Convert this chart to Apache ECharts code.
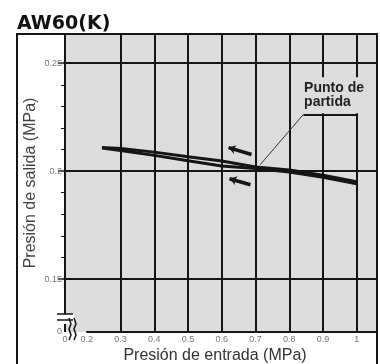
<!DOCTYPE html>
<html><head><meta charset="utf-8">
<script src="https://cdn.jsdelivr.net/npm/echarts@6/dist/echarts.min.js"></script>
<style>html,body{margin:0;padding:0;background:#fff}#c{width:380px;height:364px}</style>
</head><body><div id="c"></div>
<script>
const titleText = 'AW60(K)';
const xName = 'Presión de entrada (MPa)';
const yName = 'Presión de salida (MPa)';
const annotationText = 'Punto de\npartida';
const xTickLabels = [0, 0.2, 0.3, 0.4, 0.5, 0.6, 0.7, 0.8, 0.9, 1];
const yTickLabels = [0, 0.15, 0.2, 0.25];
const yMinorTicks = [0.16, 0.17, 0.18, 0.19, 0.21, 0.22, 0.23, 0.24];
const inletPressure = [0.245, 0.3, 0.4, 0.5, 0.6, 0.7, 0.8, 0.9, 1.0];
const outletUpper = [0.2110, 0.2105, 0.2088, 0.2067, 0.2047, 0.2019, 0.2005, 0.1981, 0.1951];
const outletLower = [0.2107, 0.2096, 0.2073, 0.2048, 0.2024, 0.2012, 0.1996, 0.1972, 0.1942];
const arrowUpper = [[0.62, 0.2109], [0.688, 0.2077]];
const arrowLower = [[0.623, 0.1965], [0.685, 0.1937]];
const leader = [[0.714, 0.2030], [0.842, 0.2263]];
const bracket = [[0.842, 0.2263], [0.998, 0.2263]];

const BG = '#dcdcdc', INK = '#151515';
const chart = echarts.init(document.getElementById('c'), null, {renderer: 'canvas'});
const pairs = (xs, ys) => xs.map((x, i) => [x, ys[i]]);
const inList = (list, v) => list.some(t => Math.abs(t - v) < 1e-6);
const G = {left: 65, right: 3, top: 34, bottom: 32};
const yScale = {type: 'value', min: 0, max: 0.2635, interval: 0.05,
  breaks: [{start: 0, end: 0.132, gap: '4.7%'}], breakArea: {show: false}};

chart.setOption({
  animation: false,
  title: {text: titleText, left: 12, top: 10,
    textStyle: {fontFamily: 'DejaVu Sans', fontWeight: 'bold', fontSize: 19, color: '#111'}},
  grid: Object.assign({show: true, backgroundColor: BG, borderWidth: 0, outerBoundsMode: 'none', containLabel: false}, G),
  xAxis: {
    type: 'value', min: 0, max: 1.06, interval: 0.1,
    breaks: [{start: 0, end: 0.2, gap: '7%'}],
    breakArea: {show: false},
    name: xName, nameLocation: 'middle', nameGap: 16, nameMoveOverlap: false,
    nameTextStyle: {fontFamily: 'Liberation Sans', fontSize: 16, color: '#333', padding: [0, 12, 0, 0]},
    axisLine: {show: true, lineStyle: {color: INK, width: 2}},
    axisTick: {show: false},
    axisLabel: {fontFamily: 'Liberation Sans', fontSize: 9, color: '#777', margin: 3,
      customValues: xTickLabels,
      formatter: v => (Math.abs(v - 1) < 1e-9 ? '1' : (Math.abs(v) < 1e-9 ? '0' : v.toFixed(1)))},
    splitLine: {show: true, lineStyle: {color: INK, width: 2}}
  },
  yAxis: [
    Object.assign({}, yScale, {
      name: yName, nameLocation: 'middle', nameGap: 26, nameMoveOverlap: false,
      nameTextStyle: {fontFamily: 'Liberation Sans', fontSize: 16, color: '#444'},
      axisLine: {show: true, lineStyle: {color: INK, width: 2}},
      axisTick: {show: true, length: 7, customValues: yTickLabels.slice(1), lineStyle: {color: INK, width: 1.5}},
      axisLabel: {fontFamily: 'Liberation Sans', fontSize: 9, color: '#777', margin: 3,
        customValues: yTickLabels, hideOverlap: false,
        formatter: v => String(+(+v).toFixed(2))},
      splitLine: {show: true, lineStyle: {color: INK, width: 2}}
    }),
    Object.assign({}, yScale, {
      position: 'left',
      axisLine: {show: false}, axisLabel: {show: false}, splitLine: {show: false},
      axisTick: {show: true, length: 4, customValues: yMinorTicks, lineStyle: {color: INK, width: 1}}
    })
  ],
  series: [
    {type: 'line', data: pairs(inletPressure, outletUpper), symbol: 'none',
      lineStyle: {color: INK, width: 3}, z: 5,
      markLine: {silent: true, symbol: ['none', 'none'], label: {show: false},
        data: [
          [{coord: leader[0], lineStyle: {color: '#333', width: 1, type: 'solid'}}, {coord: leader[1]}],
          [{coord: bracket[0], lineStyle: {color: INK, width: 2, type: 'solid'}}, {coord: bracket[1]}]
        ]}},
    {type: 'line', data: pairs(inletPressure, outletLower), symbol: 'none',
      lineStyle: {color: INK, width: 3}, z: 5,
      markLine: {silent: true, symbol: ['arrow', 'none'], symbolSize: [7, 7], label: {show: false},
        lineStyle: {color: INK, width: 3.5, type: 'solid'},
        data: [
          [{coord: arrowUpper[0]}, {coord: arrowUpper[1]}],
          [{coord: arrowLower[0]}, {coord: arrowLower[1]}]
        ]}}
  ]
});

function px(p) { return chart.convertToPixel({gridIndex: 0}, p); }
const boxTL = px([0.835, 0.2435]);
const boxBR = px([1.04, 0.2263]);
const o = [G.left, 364 - G.bottom];
const fr = {left: 17, top: G.top, right: 380 - G.right};
chart.setOption({
  graphic: [
    {type: 'rect', z: 50, shape: {x: boxTL[0], y: boxTL[1], width: boxBR[0] - boxTL[0], height: boxBR[1] - boxTL[1] - 1},
      style: {fill: BG}},
    {type: 'text', z: 51, x: boxTL[0] + 3, y: boxTL[1] + 4,
      style: {text: annotationText, fontFamily: 'Liberation Sans', fontWeight: 'bold', fontSize: 14, lineHeight: 14, fill: '#222'}},
    {type: 'polyline', z: 60, shape: {points: [[fr.left, 364], [fr.left, fr.top], [fr.right, fr.top], [fr.right, 364]]},
      style: {stroke: INK, lineWidth: 2, fill: null}},
    {type: 'rect', z: 55, shape: {x: o[0] - 3, y: o[1] - 18, width: 12, height: 10}, style: {fill: '#fff'}},
    {type: 'polyline', z: 56, shape: {points: [[o[0] - 8, o[1] - 18], [o[0] + 8, o[1] - 18]]}, style: {stroke: INK, lineWidth: 1.5, fill: null}},
    {type: 'polyline', z: 56, shape: {points: [[o[0] - 8, o[1] - 12], [o[0] + 8, o[1] - 12]]}, style: {stroke: INK, lineWidth: 1.5, fill: null}},
    {type: 'polyline', z: 56, shape: {points: [[o[0] + 4, o[1] - 14], [o[0] + 6, o[1] - 8], [o[0] + 4, o[1] - 3], [o[0] + 6, o[1] + 3], [o[0] + 4, o[1] + 8]]}, style: {stroke: INK, lineWidth: 1.5, fill: null}},
    {type: 'polyline', z: 56, shape: {points: [[o[0] + 9, o[1] - 14], [o[0] + 11, o[1] - 8], [o[0] + 9, o[1] - 3], [o[0] + 11, o[1] + 3], [o[0] + 9, o[1] + 8]]}, style: {stroke: INK, lineWidth: 1.5, fill: null}}
  ]
});
</script></body></html>
